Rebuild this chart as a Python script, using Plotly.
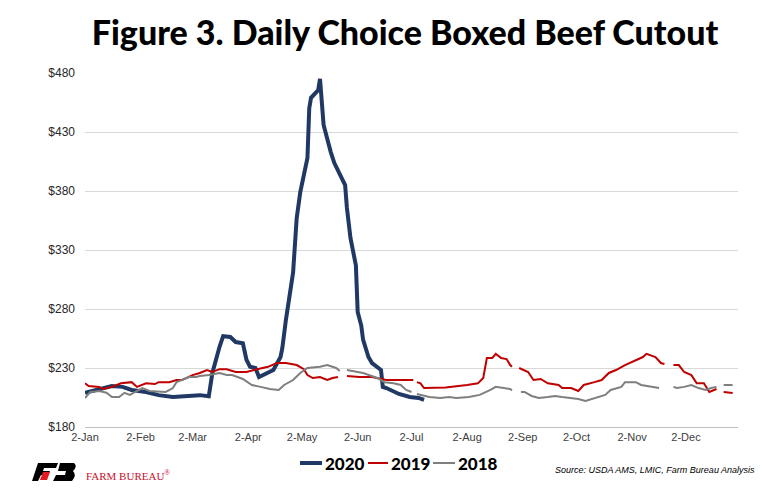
import plotly.graph_objects as go

YEAR = "2020"

# 2020 series (dates on a common Jan-Dec axis)
d2020 = ["01-02","01-17","01-23","01-28","02-05","02-12","02-20","02-28","03-06","03-11",
         "03-13","03-17","03-19","03-23","03-26","03-30","04-01","04-03","04-06","04-08",
         "04-13","04-16","04-20","04-21","04-23","04-27","04-29","05-01","05-05","05-06",
         "05-07","05-11","05-12","05-13","05-14","05-18","05-20","05-26","05-27","05-29",
         "06-01","06-02","06-04","06-05","06-08","06-10","06-15","06-16","06-18","06-25",
         "07-01","07-06","07-09"]
v2020 = [209,214.7,214,211.4,209.7,207,205.4,206,207,206,
         225.8,248,257,256.3,252,251,237,231,230,222.4,
         225.8,228.3,239.3,247,270.8,311,357,379,408,450,
         459,465.6,475,459,436,413,403.7,385,365.6,340,
         317,277.5,266,254,239.3,234.2,228.3,214,213,208,
         205.4,204.6,202.9]

# 2019 series (None = missing day)
d2019 = ["01-02","01-04","01-10","01-12","01-17","01-22","01-28","01-31","02-05","02-10",
         "02-12","02-18","02-22","02-25","03-02","03-06","03-10","03-13","03-17","03-21",
         "03-26","04-01","04-07","04-13","04-18","04-23","04-29","05-03","05-05","05-08",
         "05-12","05-16","05-19","05-22","05-25","05-27","06-03","06-10","06-18","06-29",
         "07-03","07-04","07-05","07-07","07-09","07-13","07-21","08-02","08-08","08-11",
         "08-13","08-16","08-18","08-21","08-24","08-26","08-27","08-29","08-31","09-05",
         "09-08","09-12","09-16","09-22","09-24","09-29","10-03","10-06","10-12","10-16",
         "10-20","10-24","10-29","11-04","11-08","11-10","11-15","11-18","11-20","11-23",
         "11-25","11-28","12-01","12-05","12-08","12-12","12-15","12-19","12-21","12-23",
         "12-28"]
v2019 = [217,214.7,214,212.2,214,217,218,214,217,216.4,
         218,218,219.8,219.8,224,225.8,228.3,226.6,229,229,
         226.6,226.6,229,231,234.2,234.2,232.5,229,224,221.5,
         222.4,219.8,221.5,222.4,None,223.2,222.4,222.4,219.8,219.8,
         219.8,None,218,217,213,213,213.5,215.6,217,221.5,
         238.5,238.5,242,238.5,237.6,232.5,231,None,230,226.6,
         219.8,220.7,217,215.6,213,213,210.5,215.6,218,219.8,
         225.8,228.3,232.5,236.8,239.3,242,239.3,234.2,233.4,None,
         232.5,232.5,226.6,224,217,217,209.7,212.2,None,209.7,
         208.8]

# 2018 series
d2018 = ["01-02","01-05","01-10","01-14","01-17","01-21","01-24","01-27","01-30","02-03",
         "02-07","02-12","02-16","02-20","02-22","02-25","02-29","03-04","03-06","03-11",
         "03-17","03-21","03-24","03-30","04-02","04-04","04-09","04-14","04-19","04-22",
         "04-27","05-01","05-05","05-12","05-16","05-21","05-23","05-25","05-27","06-05",
         "06-13","06-17","06-22","06-26","06-29","07-02","07-04","07-05","07-12","07-18",
         "07-23","07-27","08-03","08-09","08-13","08-15","08-18","08-26","08-27","08-29",
         "09-01","09-03","09-07","09-11","09-16","09-20","09-24","09-28","10-03","10-07",
         "10-12","10-18","10-21","10-27","10-29","11-04","11-07","11-13","11-17","11-22",
         "11-25","11-27","12-01","12-05","12-09","12-13","12-16","12-19","12-21","12-23",
         "12-28"]
v2018 = [204.5,209.7,210.5,209,205.4,205.4,209,207.2,209.7,213,
         210.5,209.7,209.7,213,218,219.8,222.4,222.4,223.2,224,
         225.8,224,224,220.7,218,215.6,214,212.2,211.4,215.6,
         219.8,225.8,230,231,232.5,230,227.5,None,228.3,225.8,
         221.5,218,217,215.6,211.4,209.7,None,208,205.4,204.6,
         205.4,204.6,205.4,207.2,209.7,211.4,214,212.2,211,None,
         209.7,209.7,206.3,204.6,205.4,206.3,205.4,204.6,203.7,202,
         204.6,207.2,211.4,214,218,218,215.6,214,213,None,
         214,213,214,215.6,213,211.4,213,214,None,215.6,
         215.6]

series_names = ["2020", "2019", "2018"]
series_colors = ["#203864", "#c00000", "#7f7f7f"]
series_widths = [4, 2, 2]

tick_dates = ["01-02","02-02","03-02","04-02","05-02","06-02","07-02","08-02","09-02","10-02","11-02","12-02"]
tick_text = ["2-Jan","2-Feb","2-Mar","2-Apr","2-May","2-Jun","2-Jul","2-Aug","2-Sep","2-Oct","2-Nov","2-Dec"]
y_ticks = [180, 230, 280, 330, 380, 430, 480]

def full(ds):
    return [f"{YEAR}-{d}" for d in ds]

fig = go.Figure()
for d, v, n, c, w in zip([d2020, d2019, d2018], [v2020, v2019, v2018],
                         series_names, series_colors, series_widths):
    fig.add_trace(go.Scatter(x=full(d), y=v, name=n, mode="lines",
                             line=dict(color=c, width=w), connectgaps=False))

# page body has an 8px margin: figure coords = screen coords - 8
W, H = 772, 484
fig.update_layout(
    width=W, height=H,
    margin=dict(l=77, r=42, t=65, b=65, autoexpand=False),
    paper_bgcolor="white", plot_bgcolor="white",
    title=dict(text="Figure 3. Daily Choice Boxed Beef Cutout",
               x=397/W, xanchor="center", xref="container",
               y=1-25/H, yanchor="middle", yref="container",
               font=dict(family="Lato, sans-serif", size=34, color="black", weight=900)),
    xaxis=dict(type="date", range=[f"{YEAR}-01-02", f"{YEAR}-12-31"],
               tickvals=full(tick_dates), ticktext=tick_text,
               showgrid=False, showline=True, linecolor="#bfbfbf", linewidth=1,
               ticks="", tickfont=dict(family="Liberation Sans, Arial, sans-serif", size=11, color="#404040"),
               zeroline=False, automargin=False),
    yaxis=dict(range=[180, 480], tickvals=y_ticks, ticktext=[f"${v}" for v in y_ticks],
               showgrid=True, gridcolor="#d9d9d9", gridwidth=1, showline=False, zeroline=False,
               ticks="", ticklabelstandoff=9, automargin=False,
               tickfont=dict(family="Liberation Sans, Arial, sans-serif", size=12, color="#262626")),
    showlegend=False,
)

def px(x):
    return (x-85)/653
def py(y):
    return (427-y)/354

# Manual legend (screen pixel positions)
legend_line_x = [(300, 322), (368, 388), (433, 455)]
legend_y = 463
for (x0, x1), n, c, w in zip(legend_line_x, series_names, series_colors, series_widths):
    fig.add_shape(type="line", xref="paper", yref="paper",
                  x0=px(x0), x1=px(x1), y0=py(legend_y), y1=py(legend_y),
                  line=dict(color=c, width=w))
    fig.add_annotation(text=n, xref="paper", yref="paper", x=px(x1+1), y=py(legend_y),
                       xanchor="left", yanchor="middle", showarrow=False,
                       font=dict(family="Lato, sans-serif", size=17, color="black", weight=900))

# Source note
fig.add_annotation(text="<i>Source: USDA AMS, LMIC, Farm Bureau Analysis</i>",
                   xref="paper", yref="paper", x=px(757), y=py(470),
                   xanchor="right", yanchor="middle", showarrow=False,
                   font=dict(family="Liberation Sans, Arial, sans-serif", size=9, color="black"))

# Farm Bureau logo (decorative)
fig.add_shape(type="path", xref="paper", yref="paper",
              path=f"M {px(38)} {py(463)} L {px(58)} {py(463)} L {px(56)} {py(468)} L {px(44)} {py(468)} "
                   f"L {px(43)} {py(471)} L {px(50)} {py(471)} L {px(48)} {py(475)} L {px(41)} {py(475)} "
                   f"L {px(38)} {py(481)} L {px(32)} {py(481)} Z",
              fillcolor="black", line=dict(width=0))
fig.add_shape(type="path", xref="paper", yref="paper",
              path=f"M {px(60)} {py(463)} L {px(74)} {py(463)} Q {px(78)} {py(466)} {px(73)} {py(471)} "
                   f"Q {px(77)} {py(475)} {px(72)} {py(481)} L {px(53)} {py(481)} L {px(56)} {py(475)} "
                   f"L {px(65)} {py(475)} L {px(66)} {py(471)} L {px(58)} {py(471)} Z",
              fillcolor="black", line=dict(width=0))
fig.add_shape(type="path", xref="paper", yref="paper",
              path=f"M {px(43)} {py(472)} L {px(50)} {py(472)} L {px(47)} {py(480)} L {px(40)} {py(480)} Z",
              fillcolor="#e31b23", line=dict(width=0))
fig.add_annotation(text="FARM BUREAU<sup>®</sup>", xref="paper", yref="paper",
                   x=px(84), y=py(475), xanchor="left", yanchor="middle", showarrow=False,
                   font=dict(family="Liberation Serif, Times New Roman, serif", size=11, color="#c8102e"))

fig.write_html("out.html")
